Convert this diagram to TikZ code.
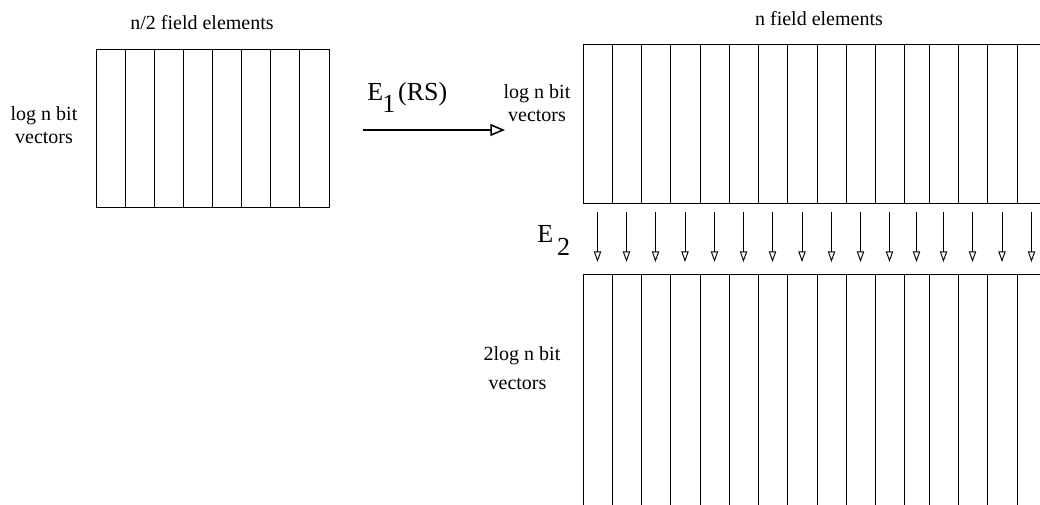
\documentclass[tikz,border=0pt]{standalone}
\usepackage{fontspec}
\setmainfont{Liberation Serif}
\usepackage{tikz}
\usetikzlibrary{arrows.meta}
\tikzset{
    cell/.style={line width=0.75pt},
    txt/.style={font=\fontsize{15}{17.25}\selectfont, inner sep=0pt},
    lbl/.style={font=\fontsize{19.5}{22}\selectfont, inner sep=0pt},
    hop/.style={line width=0.7pt, -{Triangle[open,length=8pt,width=5.5pt]}},
    bigarrow/.style={line width=1.5pt, -{Triangle[open,length=11pt,width=9pt,line width=1.2pt]}}
}
\begin{document}
\begin{tikzpicture}[x=0.75pt,y=-0.75pt]
            \clip (0,0) rectangle (1040,504);
            \fill[white] (0,0) rectangle (1040,504);

            \draw[cell] (96,49) rectangle (329,207);
            \foreach \i in {1,...,7} {
                \draw[cell] ({96+29.125*\i},49) -- ({96+29.125*\i},207);
            }
            \node[txt, anchor=base] (halfhead) at (202,29) {n/2 field elements};
            \node[txt, align=center] (halfrows) at (44,125) {log n bit\\vectors};

            \coordinate (e1from) at (363,130);
            \coordinate (e1to) at (505,130);
            \draw[bigarrow] (e1from) -- (e1to);
            \node[lbl, anchor=base west] (e1lbl) at (367,100) {E\kern-0.5pt\raisebox{-9pt}{1}\kern2pt(RS)};

            \draw[cell] (583,44) -- (1046,44);
            \draw[cell] (583,203) -- (1046,203);
            \draw[cell] (583,274) -- (1046,274);
            \foreach \x in {583,612,641,670,700,729,758,787,817,846,875,904,929,958,987,1017,1046} {
                \draw[cell] (\x,44) -- (\x,203);
                \draw[cell] (\x,274) -- (\x,520);
            }
            \node[txt, anchor=base] (fullhead) at (819,25) {n field elements};
            \node[txt, align=center] (fullrows) at (537,103) {log n bit\\vectors};

            \foreach \xa/\xb in {583/612,612/641,641/670,670/700,700/729,729/758,758/787,787/817,817/846,846/875,875/904,904/929,929/958,958/987,987/1017,1017/1046} {
                \coordinate (s\xa) at ({(\xa+\xb)/2},212);
                \coordinate (t\xa) at ({(\xa+\xb)/2},262);
                \draw[hop] (s\xa) -- (t\xa);
            }
            \node[lbl, anchor=base west] (e2lbl) at (537,242) {E\kern3pt\raisebox{-10pt}{2}};

            \node[txt, align=left] (widerows) at (522,368) {2log n bit\\[4.5pt]\ vectors};
        \end{tikzpicture}
\end{document}
